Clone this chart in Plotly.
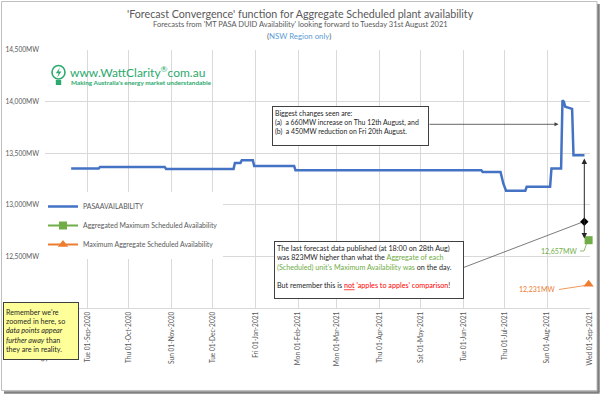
import plotly.graph_objects as go

# ---------------- data ----------------
pasa_dates = ["2020-08-20", "2020-09-09", "2020-09-10", "2020-10-27", "2020-10-28",
              "2020-12-16", "2020-12-17", "2020-12-21", "2020-12-22", "2020-12-30",
              "2020-12-31", "2021-01-29", "2021-01-30", "2021-06-14", "2021-06-15",
              "2021-06-28", "2021-06-30", "2021-07-02", "2021-07-16", "2021-07-17",
              "2021-08-03", "2021-08-04", "2021-08-11", "2021-08-12", "2021-08-13",
              "2021-08-14", "2021-08-19", "2021-08-20", "2021-08-28"]
pasa_values = [13352, 13352, 13367, 13367, 13348,
               13348, 13406, 13406, 13432, 13432,
               13377, 13377, 13335, 13335, 13319,
               13319, 13207, 13136, 13136, 13174,
               13174, 13352, 13352, 14012, 14000,
               13950, 13930, 13481, 13481]

agg_dates = ["2021-08-31"]
agg_values = [12657]
max_dates = ["2021-08-31"]
max_values = [12231]

series_names = ["PASAAVAILABILITY",
                "Aggregated Maximum Scheduled Availability",
                "Maximum Aggregate Scheduled Availability"]
x_range = ["2020-08-01", "2021-09-01"]
y_range = [12000, 14500]
y_step = 500

# ---------------- layout helpers (pixel -> paper) ----------------
W, H = 604, 396
PL, PR, PT, PB = 45, 590, 50, 308


def px(x):
    return (x - PL) / (PR - PL)


def py(y):
    return (PB - y) / (PB - PT)


FONT = "Lato, sans-serif"
GREY = "#595959"
BLUE = "#4472C4"
GREEN = "#70AD47"
ORANGE = "#ED7D31"
LOGO = "#2BA96E"
NB = "\u00a0"

fig = go.Figure()
fig.add_trace(go.Scatter(x=pasa_dates, y=pasa_values, mode="lines",
                         name=series_names[0],
                         line=dict(color=BLUE, width=2.5)))
fig.add_trace(go.Scatter(x=agg_dates, y=agg_values, mode="lines+markers",
                         name=series_names[1], cliponaxis=False,
                         line=dict(color=GREEN, width=2),
                         marker=dict(symbol="square", size=8, color=GREEN)))
fig.add_trace(go.Scatter(x=max_dates, y=max_values, mode="lines+markers",
                         name=series_names[2], cliponaxis=False,
                         line=dict(color=ORANGE, width=2),
                         marker=dict(symbol="triangle-up", size=9, color=ORANGE)))

annotations = []
shapes = []


def label(xp, yp, text, size, color, xanchor="center"):
    annotations.append(dict(x=px(xp), y=py(yp), xref="paper", yref="paper",
                            showarrow=False, xanchor=xanchor, yanchor="middle",
                            text=text, font=dict(family=FONT, size=size, color=color)))


# titles
label(300, 14, "'Forecast Convergence' function for Aggregate Scheduled plant availability", 10.7, GREY)
label(300, 24.5, "Forecasts from 'MT PASA DUID Availability' looking forward to Tuesday 31st August 2021", 7.5, GREY)
label(299, 36, "(<span style='color:#5B9BD5'>NSW Region only</span>)", 7.8, GREY)

# logo
label(68, 71.5, "www.WattClarity<sup>®</sup>com.au", 12, LOGO, "left")
label(68.5, 82.5, "<b>Making Australia's energy market understandable</b>", 6.4, LOGO, "left")
shapes.append(dict(type="circle", xref="paper", yref="paper",
                   x0=px(52), x1=px(65), y0=py(79), y1=py(65.5),
                   line=dict(color=LOGO, width=1.6)))
shapes.append(dict(type="rect", xref="paper", yref="paper",
                   x0=px(55.8), x1=px(61.2), y0=py(85), y1=py(80),
                   line=dict(width=0), fillcolor=LOGO))
bolt = [(60, 67.5), (55.8, 73.3), (58.6, 73.3), (57.2, 77.8), (61.4, 71.4), (58.6, 71.4)]
path = "M " + " L ".join(f"{px(a):.5f},{py(b):.5f}" for a, b in bolt) + " Z"
shapes.append(dict(type="path", xref="paper", yref="paper", path=path,
                   fillcolor=LOGO, line=dict(width=0)))

# text box 1 + arrow
annotations.append(dict(x=px(272), y=py(106), xref="paper", yref="paper", showarrow=False,
                        xanchor="left", yanchor="top", align="left", valign="top",
                        width=151, height=34, borderpad=2,
                        bordercolor="#404040", borderwidth=1, bgcolor="white",
                        text="Biggest changes seen are:<br>"
                             f"(a){NB}{NB}a 660MW increase on Thu 12th August, and<br>"
                             f"(b){NB}{NB}a 450MW reduction on Fri 20th August.",
                        font=dict(family=FONT, size=6.9, color="#262626")))
annotations.append(dict(x=px(558.5), y=py(124.3), xref="paper", yref="paper",
                        ax=428 - 558.5, ay=0, showarrow=True, text="",
                        arrowhead=2, arrowsize=1, arrowwidth=0.8, arrowcolor="#404040"))

# text box 2 + connector with diamond end
annotations.append(dict(x=px(273.5), y=py(240.8), xref="paper", yref="paper", showarrow=False,
                        xanchor="left", yanchor="top", align="left", valign="top",
                        width=184, height=52, borderpad=2,
                        bordercolor="#404040", borderwidth=1, bgcolor="white",
                        text="The last forecast data published (at 18:00 on 28th Aug)<br>"
                             "was 823MW higher than what the <span style='color:#70AD47'>Aggregate of each</span><br>"
                             "<span style='color:#70AD47'>(Scheduled) unit's Maximum Availability was</span> on the day.<br>"
                             "<br>"
                             "But remember this is <span style='color:#FF0000;text-decoration:underline'>not</span> "
                             "<span style='color:#FF0000'>'apples to apples' comparison</span>!",
                        font=dict(family=FONT, size=7.2, color="#262626")))
shapes.append(dict(type="line", xref="paper", yref="paper",
                   x0=px(461.5), y0=py(268.3), x1=px(583.5), y1=py(221.7),
                   line=dict(color="#595959", width=0.8)))
dia = [(584.3, 217.5), (588.5, 221.7), (584.3, 225.9), (580.1, 221.7)]
path = "M " + " L ".join(f"{px(a):.5f},{py(b):.5f}" for a, b in dia) + " Z"
shapes.append(dict(type="path", xref="paper", yref="paper", path=path,
                   fillcolor="black", line=dict(width=0)))

# vertical double arrow
annotations.append(dict(x=px(584.3), y=py(158.5), xref="paper", yref="paper",
                        ax=0, ay=240 - 158.5, showarrow=True, text="",
                        arrowside="end+start",
                        arrowhead=2, startarrowhead=2, arrowsize=1.1, startarrowsize=1.1,
                        arrowwidth=1, arrowcolor="#262626"))

# value labels with leaders
label(578.5, 251, "12,657MW", 7, GREEN, "right")
shapes.append(dict(type="path", xref="paper", yref="paper",
                   path=f"M {px(580):.5f},{py(251):.5f} L {px(584):.5f},{py(251):.5f} L {px(586.5):.5f},{py(244):.5f}",
                   line=dict(color=GREEN, width=0.8)))
label(557, 289.3, "12,231MW", 7, ORANGE, "right")
shapes.append(dict(type="line", xref="paper", yref="paper",
                   x0=px(559), y0=py(289.5), x1=px(585), y1=py(285.5),
                   line=dict(color=ORANGE, width=0.8)))

# yellow note
annotations.append(dict(x=px(3), y=py(302), xref="paper", yref="paper", showarrow=False,
                        xanchor="left", yanchor="top", align="left", valign="middle",
                        width=70, height=52, borderpad=2,
                        bordercolor="#404040", borderwidth=1, bgcolor="#FFFF99",
                        text="Remember we're<br>zoomed in here, so<br>"
                             "<i>data points appear</i><br><i>further away</i> than<br>"
                             "they are in reality.",
                        font=dict(family=FONT, size=7.2, color="#262626")))

# outer frame with shadow
shapes.append(dict(type="rect", xref="paper", yref="paper",
                   x0=px(1.5), x1=px(597), y0=py(390.5), y1=py(1.5),
                   line=dict(color="#BFBFBF", width=1), layer="below"))
shapes.append(dict(type="line", xref="paper", yref="paper",
                   x0=px(598.5), x1=px(598.5), y0=py(4), y1=py(392.5),
                   line=dict(color="#808080", width=2.5)))
shapes.append(dict(type="line", xref="paper", yref="paper",
                   x0=px(4), x1=px(599.5), y0=py(392.5), y1=py(392.5),
                   line=dict(color="#808080", width=2.5)))

fig.update_layout(
    width=W, height=H,
    margin=dict(l=PL, r=W - PR, t=PT, b=H - PB, autoexpand=False),
    paper_bgcolor="white", plot_bgcolor="white",
    font=dict(family=FONT, size=7, color=GREY),
    showlegend=True,
    legend=dict(x=px(43), y=py(192), xanchor="left", yanchor="top",
                bgcolor="white", font=dict(family=FONT, size=6.9, color=GREY),
                itemwidth=30, tracegroupgap=0),
    annotations=annotations,
    shapes=shapes,
    xaxis=dict(type="date", range=x_range, dtick="M1", tick0=x_range[0],
               tickformat="%a %d-%b-%Y", tickangle=-90,
               showgrid=True, gridcolor="#D9D9D9", gridwidth=1,
               showline=True, linecolor="#D9D9D9", zeroline=False, ticks="",
               tickfont=dict(family=FONT, size=6.6, color=GREY)),
    yaxis=dict(range=y_range, dtick=y_step, tick0=y_range[0],
               tickformat=",d", ticksuffix="MW",
               showgrid=True, gridcolor="#D9D9D9", gridwidth=1,
               showline=False, zeroline=False, ticks="", ticklabelstandoff=5,
               tickfont=dict(family=FONT, size=6.6, color=GREY)),
)

fig.write_html("out.html", config={"displayModeBar": False},
               post_script="document.body.style.margin='0';document.body.style.overflow='hidden';")
